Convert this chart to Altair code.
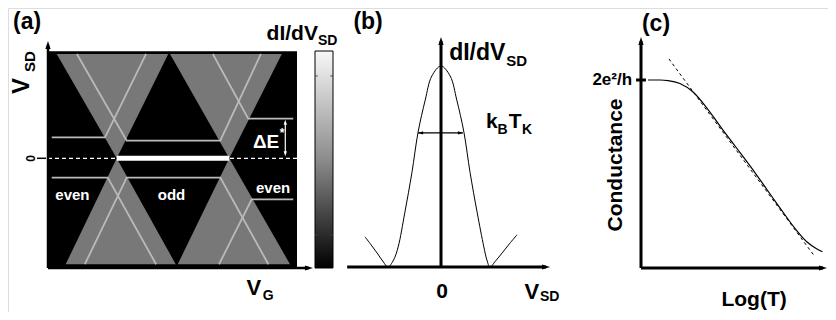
import altair as alt
import pandas as pd

# ---------------- Panel (a): Coulomb diamonds (VG, VSD units) ----------------
tri_id = ["TL", "TL", "TR", "TR", "BL", "BL", "BR", "BR"]
tri_vsd = [0.975, 0.0, 0.975, 0.0, -0.99, 0.0, -0.99, 0.0]
tri_left = [0.35, 2.76, 4.90, 7.28, 0.71, 2.76, 5.21, 7.28]
tri_right = [4.83, 2.76, 9.39, 7.28, 5.13, 2.76, 9.72, 7.28]

ex_id = (["evenL_top"] * 3 + ["odd_top"] * 4 + ["evenR_top"] * 3 +
         ["evenL_bot"] * 3 + ["odd_bot"] * 4 + ["evenR_bot"] * 3)
ex_order = [0, 1, 2, 0, 1, 2, 3, 0, 1, 2, 0, 1, 2, 0, 1, 2, 3, 0, 1, 2]
ex_vg = [0.15, 2.29, 3.94, 1.16, 3.16, 6.92, 8.55, 9.85, 8.04, 6.62,
         0.15, 2.40, 4.34, 1.48, 3.16, 6.92, 8.85, 9.85, 8.18, 6.87]
ex_vsd = [0.196, 0.196, 0.975, 0.975, 0.165, 0.165, 0.975, 0.37, 0.37, 0.975,
          -0.18, -0.18, -0.99, -0.99, -0.18, -0.18, -0.99, -0.383, -0.383, -0.99]

kondo_vg = [2.76, 7.28]          # zero-bias Kondo ridge in the odd diamond
cbar_ticks = [0.152, 0.885]

# ---------------- Panel (b): Kondo peak ----------------
b_vsd = [-1.49, -1.37, -1.24, -1.13, -1.04, -0.93, -0.84, -0.71, -0.57, -0.45, -0.31, -0.18, 0.0,
         0.18, 0.31, 0.45, 0.57, 0.71, 0.84, 0.90, 0.96, 1.07, 1.20, 1.34, 1.49]
b_didv = [0.15, 0.11, 0.065, 0.025, 0.0, 0.035, 0.10, 0.27, 0.47, 0.67, 0.83, 0.95, 1.0,
          0.95, 0.83, 0.67, 0.47, 0.27, 0.10, 0.035, 0.0, 0.03, 0.07, 0.115, 0.16]
fwhm = [-0.45, 0.43]
fwhm_level = 0.667

# ---------------- Panel (c): Conductance vs Log(T) ----------------
c_logt = [0.37, 1.0, 1.42, 2.05, 2.74, 3.47, 4.16, 4.95, 5.74, 6.53, 7.32,
          8.21, 8.74, 9.26, 9.55]
c_g = [1.0, 1.0, 0.997, 0.981, 0.936, 0.851, 0.755, 0.649, 0.543, 0.431, 0.319,
       0.197, 0.138, 0.101, 0.086]
tan_logt = [1.47, 9.16]
tan_g = [1.112, 0.059]

# ---------------- scales (each panel its own) ----------------
XA = alt.Scale(domain=[0, 10], range=[40, 289], nice=False, zero=False)
YA = alt.Scale(domain=[-1, 1], range=[257.3, 43.3], nice=False, zero=False)
XB = alt.Scale(domain=[-2, 2], range=[331, 535], nice=False, zero=False)
YB = alt.Scale(domain=[0, 1], range=[259, 58], nice=False, zero=False)
XC = alt.Scale(domain=[0, 10], range=[633, 823], nice=False, zero=False)
YC = alt.Scale(domain=[0, 1], range=[260, 72], nice=False, zero=False)
XK = alt.Scale(domain=[0, 1], range=[307, 325], nice=False, zero=False)
YK = alt.Scale(domain=[0, 1], range=[260, 43], nice=False, zero=False)
SC = {"a": (XA, YA), "b": (XB, YB), "c": (XC, YC), "k": (XK, YK)}

FONT = "Liberation Sans"
UP = "M0,-1L0.65,1L-0.65,1Z"
DOWN = "M0,1L-0.65,-1L0.65,-1Z"
RIGHT = "M1,0L-1,0.65L-1,-0.65Z"
LEFT = "M-1,0L1,-0.65L1,0.65Z"


def X(p, f="x"):
    return alt.X(f"{f}:Q", scale=SC[p][0], axis=None)


def Y(p, f="y"):
    return alt.Y(f"{f}:Q", scale=SC[p][1], axis=None)


def hline(p, x1, x2, y, color="black", width=2.5, dash=None):
    df = pd.DataFrame({"x": [x1], "x2": [x2], "y": [y]})
    kw = dict(color=color, strokeWidth=width)
    if dash:
        kw["strokeDash"] = dash
    return alt.Chart(df).mark_rule(**kw).encode(x=X(p), x2="x2:Q", y=Y(p))


def vline(p, x, y1, y2, color="black", width=2.5):
    df = pd.DataFrame({"x": [x], "y": [y1], "y2": [y2]})
    return alt.Chart(df).mark_rule(color=color, strokeWidth=width).encode(
        x=X(p), y=Y(p), y2="y2:Q")


def head(p, x, y, shape, size=64, color="black"):
    df = pd.DataFrame({"x": [x], "y": [y]})
    return alt.Chart(df).mark_point(shape=shape, size=size, filled=True, color=color,
                                    opacity=1, strokeWidth=0).encode(x=X(p), y=Y(p))


def label(p, x, y, s, size, align="center", baseline="middle", angle=0, color="black"):
    df = pd.DataFrame({"x": [x], "y": [y], "t": [s]})
    return alt.Chart(df).mark_text(font=FONT, fontWeight="bold", fontSize=size, align=align,
                                   baseline=baseline, angle=angle, color=color).encode(
        x=X(p), y=Y(p), text="t:N")


# ---------------- Panel (a) ----------------
bg = alt.Chart(pd.DataFrame({"x": [0], "x2": [10], "y": [-1.025], "y2": [1.0]})).mark_rect(
    color="black").encode(x=X("a"), x2="x2:Q", y=Y("a"), y2="y2:Q")
tri = alt.Chart(pd.DataFrame({"id": tri_id, "y": tri_vsd, "x": tri_left, "x2": tri_right})).mark_area(
    orient="horizontal", color="#787878", opacity=1, fillOpacity=1).encode(
    y=Y("a"), x=X("a"), x2="x2:Q", detail="id:N")
exl = alt.Chart(pd.DataFrame({"id": ex_id, "o": ex_order, "x": ex_vg, "y": ex_vsd})).mark_line(
    color="#bababa", strokeWidth=1.8).encode(x=X("a"), y=Y("a"), detail="id:N", order="o:Q")

panel_a = alt.layer(
    bg, tri, exl,
    hline("a", 0, 10, 0, color="white", width=1.2, dash=[4, 3]),
    hline("a", kondo_vg[0], kondo_vg[1], 0, color="white", width=5),
    vline("a", 9.53, 0.042, 0.337, color="white", width=1.2),
    head("a", 9.53, 0.337, UP, size=25, color="white"),
    head("a", 9.53, 0.042, DOWN, size=25, color="white"),
    vline("a", 0, -1.025, 1.06, width=2.5),
    hline("a", 0, 10.48, -1.025, width=2.5),
    head("a", 0, 1.06, UP),
    head("a", 10.48, -1.025, RIGHT),
    hline("a", -0.44, -0.08, 0, width=1.5),
    label("a", -0.84, 1.27, "(a)", 23),
    label("a", -1.05, 0.676, "V", 24, angle=270),
    label("a", -0.74, 0.905, "SD", 15, angle=270),
    label("a", -0.68, 0, "0", 12, angle=270),
    label("a", 8.27, -1.21, "V", 22),
    label("a", 8.84, -1.287, "G", 14),
    label("a", 10.84, 1.106, "dI/dV", 21, align="right", baseline="alphabetic"),
    label("a", 10.84, 1.059, "SD", 14, align="left", baseline="alphabetic"),
    label("a", 8.76, 0.152, "ΔE", 19, color="white"),
    label("a", 9.40, 0.236, "*", 12, color="white"),
    label("a", 0.98, -0.343, "even", 15, color="white"),
    label("a", 4.96, -0.343, "odd", 15, color="white"),
    label("a", 9.04, -0.277, "even", 15, color="white"),
)

# ---------------- colour bar ----------------
grad = alt.LinearGradient(gradient="linear", x1=0, x2=0, y1=0, y2=1, stops=[
    alt.GradientStop(color="#f8f8f8", offset=0),
    alt.GradientStop(color="#8c8c8c", offset=0.5),
    alt.GradientStop(color="#000000", offset=1)])
cbar = alt.Chart(pd.DataFrame({"x": [0], "x2": [1], "y": [0], "y2": [1]})).mark_rect(
    color=grad, stroke="black", strokeWidth=1).encode(x=X("k"), x2="x2:Q", y=Y("k"), y2="y2:Q")
ticks_df = pd.DataFrame({"y": cbar_ticks * 2, "x": [0, 0, 0.85, 0.85], "x2": [0.15, 0.15, 1, 1]})
cticks = alt.Chart(ticks_df).mark_rule(color="#444444", strokeWidth=1).encode(
    x=X("k"), x2="x2:Q", y=Y("k"))
panel_k = alt.layer(cbar, cticks)

# ---------------- Panel (b) ----------------
curve_b = alt.Chart(pd.DataFrame({"x": b_vsd, "y": b_didv})).mark_line(
    color="black", strokeWidth=1, interpolate="catmull-rom").encode(x=X("b"), y=Y("b"))
panel_b = alt.layer(
    curve_b,
    vline("b", 0, 0, 1.124, width=3),
    hline("b", -1.84, 2.06, 0, width=3),
    head("b", 0, 1.124, UP),
    head("b", 2.06, 0, RIGHT),
    hline("b", fwhm[0], fwhm[1], fwhm_level, width=1.2),
    head("b", -0.40, fwhm_level, LEFT, size=25),
    head("b", 0.38, fwhm_level, RIGHT, size=25),
    label("b", -1.43, 1.22, "(b)", 23),
    label("b", 0.16, 1.03, "dI/dV", 23, align="left", baseline="alphabetic"),
    label("b", 1.28, 1.0, "SD", 15, align="left", baseline="alphabetic"),
    label("b", 0.88, 0.692, "k", 21, align="left", baseline="alphabetic"),
    label("b", 1.11, 0.662, "B", 14, align="left", baseline="alphabetic"),
    label("b", 1.33, 0.692, "T", 21, align="left", baseline="alphabetic"),
    label("b", 1.59, 0.662, "K", 14, align="left", baseline="alphabetic"),
    label("b", 0.02, -0.124, "0", 21),
    label("b", 1.78, -0.124, "V", 22),
    label("b", 1.94, -0.169, "SD", 14, align="left", baseline="alphabetic"),
)

# ---------------- Panel (c) ----------------
curve_c = alt.Chart(pd.DataFrame({"x": c_logt, "y": c_g})).mark_line(
    color="black", strokeWidth=1.2, interpolate="monotone").encode(x=X("c"), y=Y("c"))
tan_c = alt.Chart(pd.DataFrame({"x": tan_logt, "y": tan_g})).mark_line(
    color="black", strokeWidth=1, strokeDash=[3, 3]).encode(x=X("c"), y=Y("c"))
panel_c = alt.layer(
    tan_c, curve_c,
    vline("c", 0, 0, 1.207, width=3),
    hline("c", 0, 9.58, 0, width=3),
    head("c", 0, 1.207, UP),
    head("c", 9.58, 0, RIGHT),
    hline("c", -0.26, 0.26, 1.0, width=3),
    label("c", 0.79, 1.30, "(c)", 23),
    label("c", -0.47, 1.0, "2e²/h", 17, align="right"),
    label("c", -1.32, 0.548, "Conductance", 21, angle=270),
    label("c", 5.95, -0.17, "Log(T)", 21),
)

chart = alt.layer(panel_a, panel_k, panel_b, panel_c).resolve_scale(
    x="independent", y="independent"
).properties(
    width=820, height=304, padding=0, autosize=alt.AutoSizeParams(type="none")
).configure_view(stroke=None).configure(background="white")

chart.save("out.html", embed_options={"renderer": "svg", "actions": False})
